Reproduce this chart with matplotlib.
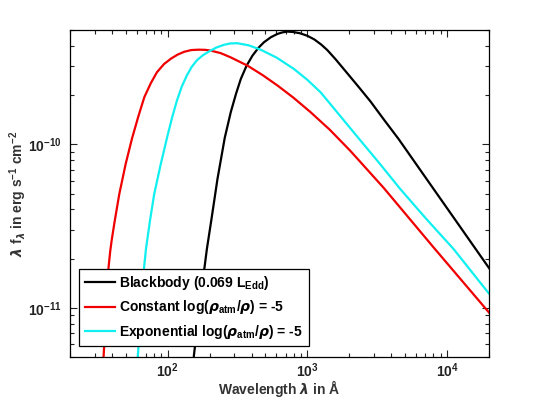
"""Spectrum comparison: blackbody vs. atmosphere models (log-log)."""

import matplotlib

matplotlib.use("Agg")

import matplotlib.pyplot as plt
from matplotlib.ticker import LogLocator, NullFormatter

# values (wavelength in Angstrom, lambda*f_lambda in erg/s/cm^2)
bb_wave = [149.6, 153.5, 169.8, 191.0, 206.1, 227.5, 256.4, 283.1, 309.0, 334.2,
           367.3, 404.6, 446.7, 489.8, 549.5, 610.9, 660.7, 719.5, 794.3, 891.3,
           1000, 1122, 1259, 1390, 1585, 1932, 2344, 2831, 3548, 4508, 6026, 8017,
           11220, 15920, 20000]
bb_flux = [3.98e-12, 4.92e-12, 1.047e-11, 2.286e-11, 3.49e-11, 6.14e-11, 1.094e-10,
           1.570e-10, 2.04e-10, 2.51e-10, 3.02e-10, 3.48e-10, 3.89e-10, 4.21e-10,
           4.52e-10, 4.73e-10, 4.83e-10, 4.89e-10, 4.86e-10, 4.77e-10, 4.61e-10,
           4.38e-10, 4.07e-10, 3.77e-10, 3.33e-10, 2.72e-10, 2.23e-10, 1.83e-10,
           1.41e-10, 1.076e-10, 7.55e-11, 5.33e-11, 3.54e-11, 2.31e-11, 1.75e-11]

const_wave = [34.5, 35.2, 36.1, 37.0, 37.8, 38.8, 39.8, 41.7, 45.1, 50.1, 55.6,
              61.7, 68.1, 75.9, 83.9, 94.4, 105.7, 117.5, 131.5, 147.9, 167.5,
              186.2, 203.7, 239.9, 283.1, 372.4, 478.6, 610.9, 794.3, 1057, 1445,
              2037, 3524, 8017, 20000]
const_flux = [4.37e-12, 6.03e-12, 9.12e-12, 1.32e-11, 1.78e-11, 2.21e-11, 2.60e-11,
              3.35e-11, 4.97e-11, 7.59e-11, 1.085e-10, 1.479e-10, 1.941e-10, 2.37e-10,
              2.76e-10, 3.10e-10, 3.34e-10, 3.53e-10, 3.68e-10, 3.77e-10, 3.79e-10,
              3.78e-10, 3.74e-10, 3.61e-10, 3.40e-10, 3.03e-10, 2.65e-10, 2.29e-10,
              1.93e-10, 1.57e-10, 1.23e-10, 9.10e-11, 5.41e-11, 2.34e-11, 9.35e-12]

exp_wave = [60.3, 61.1, 62.5, 64.3, 66.1, 67.9, 70.0, 71.6, 75.0, 80.2, 89.1,
            100, 107.9, 116.4, 125.9, 137.4, 148.6, 161.8, 177.8, 198.2, 223.9,
            253.6, 281.8, 316.2, 380.2, 463.4, 602.6, 801.7, 1000, 1245, 1698,
            2339, 3311, 4634, 7079, 11140, 20000]
exp_flux = [3.98e-12, 4.92e-12, 6.61e-12, 9.33e-12, 1.32e-11, 1.78e-11, 2.29e-11,
            2.63e-11, 3.47e-11, 4.97e-11, 7.50e-11, 1.135e-10, 1.466e-10, 1.841e-10,
            2.24e-10, 2.64e-10, 2.97e-10, 3.26e-10, 3.49e-10, 3.70e-10, 3.91e-10,
            4.06e-10, 4.14e-10, 4.15e-10, 4.03e-10, 3.79e-10, 3.39e-10, 2.89e-10,
            2.48e-10, 2.08e-10, 1.51e-10, 1.084e-10, 7.59e-11, 5.32e-11, 3.51e-11,
            2.29e-11, 1.22e-11]

x_ticks = [1e2, 1e3, 1e4]
y_ticks = [1e-11, 1e-10]

labels = [
    r"Blackbody (0.069 L$_{\rm Edd}$)",
    r"Constant log($\rho_{\rm atm}$/$\rho$) = -5",
    r"Exponential log($\rho_{\rm atm}$/$\rho$) = -5",
]

plt.rcParams["font.family"] = ["Liberation Sans", "DejaVu Sans"]
plt.rcParams["font.weight"] = "bold"
plt.rcParams["mathtext.fontset"] = "custom"
plt.rcParams["mathtext.rm"] = "Liberation Sans:bold"
plt.rcParams["mathtext.bf"] = "Liberation Sans:bold"
plt.rcParams["mathtext.it"] = "DejaVu Sans:italic"

fig = plt.figure(figsize=(5.4, 4.0), dpi=100)
ax = fig.add_axes([0.1296, 0.1075, 0.776, 0.8175])

ax.plot(bb_wave, bb_flux, color="black", lw=1.6, label=labels[0])
ax.plot(const_wave, const_flux, color="#f00000", lw=1.6, label=labels[1])
ax.plot(exp_wave, exp_flux, color="#10f0f0", lw=1.6, label=labels[2])

ax.set_xscale("log")
ax.set_yscale("log")
ax.set_xticks(x_ticks)
ax.set_yticks(y_ticks)
for axis in (ax.xaxis, ax.yaxis):
    axis.set_minor_locator(LogLocator(base=10, subs=range(2, 10)))
    axis.set_minor_formatter(NullFormatter())
ax.set_xlim(20, 2e4)
ax.set_ylim(5e-12, 5e-10)

ax.tick_params(which="both", direction="in", top=True, right=True, width=0.8,
               labelsize=10, colors="#222222")
ax.tick_params(axis="x", pad=3)
ax.tick_params(axis="y", pad=6)
ax.tick_params(which="major", length=5)
ax.tick_params(which="minor", length=3)
for spine in ax.spines.values():
    spine.set_linewidth(0.9)

ax.set_xlabel(r"Wavelength $\lambda$ in Å", fontsize=10, color="#333333",
              fontweight="bold", labelpad=-1)
ax.set_ylabel(r"$\lambda$ f$_\lambda$ in erg s$^{-1}$ cm$^{-2}$", fontsize=10,
              color="#333333", fontweight="bold")
ax.yaxis.set_label_coords(-0.098, 0.5)

leg = ax.legend(loc="lower left", bbox_to_anchor=(0.022, 0.033), fontsize=10,
                frameon=True, fancybox=False, edgecolor="black", framealpha=1,
                handlelength=2.2, handletextpad=0.3, labelspacing=0.45,
                borderpad=0.4, borderaxespad=0)
leg.get_frame().set_linewidth(0.9)

fig.savefig("out.png", dpi=100)
